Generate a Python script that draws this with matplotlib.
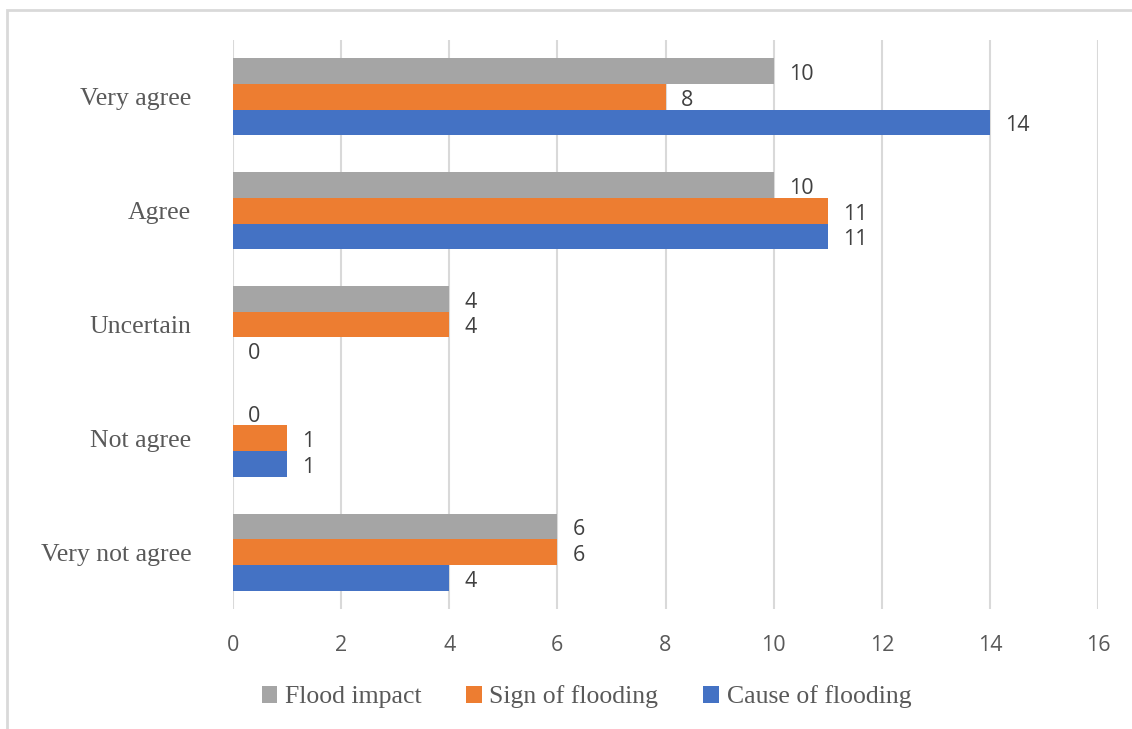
import numpy as np
import matplotlib.pyplot as plt
from matplotlib.patches import Rectangle

categories = ["Very not agree", "Not agree", "Uncertain", "Agree", "Very agree"]
cause = [4, 1, 0, 11, 14]
sign = [6, 1, 4, 11, 8]
impact = [6, 0, 4, 10, 10]

series = [("Cause of flooding", cause, "#4472C4", -1),
          ("Sign of flooding", sign, "#ED7D31", 0),
          ("Flood impact", impact, "#A5A5A5", 1)]

serif = ["Liberation Serif", "DejaVu Serif"]
sans = ["Open Sans", "DejaVu Sans"]

fig = plt.figure(figsize=(11.32, 7.29), dpi=100)
fig.patches.append(Rectangle((7 / 1132, -0.1), 1.2, 1 - 10 / 729 + 0.1,
                             transform=fig.transFigure, fill=False,
                             edgecolor="#d9d9d9", linewidth=2))

ax = fig.add_axes([233 / 1132, 120 / 729, 865 / 1132, 569 / 729])
y = np.arange(len(categories))
h = 0.225
handles = {}
for name, vals, col, k in series:
    bars = ax.barh(y + k * h, vals, height=h, color=col, label=name, zorder=3)
    labels = ax.bar_label(bars, padding=11, fontsize=15.5, color="#404040",
                          family=sans)
    for t in labels:
        t.xyann = (11, -2.5)  # nudge the value text a little below bar centre
    handles[name] = bars

ax.set_xlim(0, 16)
ax.set_ylim(-0.5, len(categories) - 0.5)
ax.set_xticks(range(0, 17, 2))
ax.set_yticks(y)
ax.set_yticklabels(categories, family=serif, fontsize=18.5, color="#595959")
for lab in ax.get_xticklabels():
    lab.set_family(sans)
ax.tick_params(axis="x", length=0, pad=19, labelsize=15.5, labelcolor="#595959")
ax.tick_params(axis="y", length=0, pad=30)
ax.grid(axis="x", color="#d9d9d9", linewidth=1.5, zorder=0)
for s in ax.spines.values():
    s.set_visible(False)

order = ["Flood impact", "Sign of flooding", "Cause of flooding"]
fig.legend([handles[n] for n in order], order, loc="center",
           bbox_to_anchor=(0.518, 32 / 729), ncol=3, frameon=False,
           prop={"family": serif, "size": 18.5}, labelcolor="#595959",
           handlelength=0.6, handleheight=0.6, handletextpad=0.3,
           columnspacing=1.75)

fig.savefig("out.png", dpi=100)
